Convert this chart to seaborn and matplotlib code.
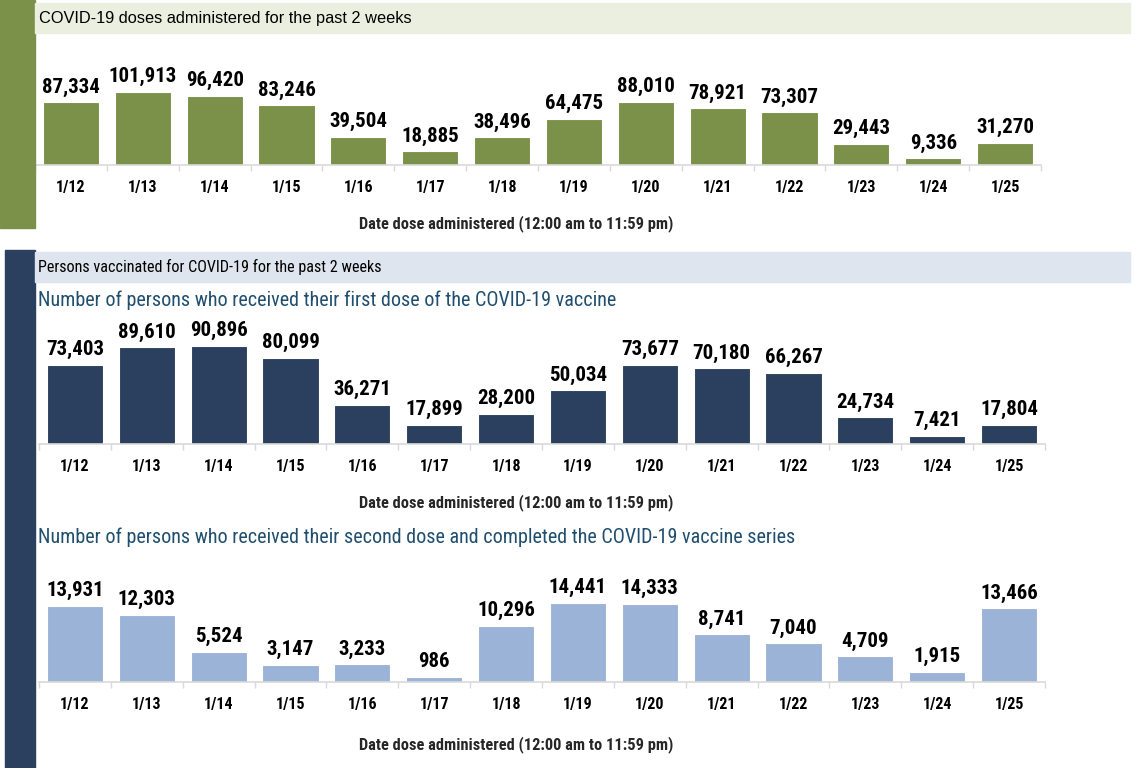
import pandas as pd
import matplotlib.pyplot as plt
import seaborn as sns
from matplotlib.patches import Rectangle
from matplotlib.ticker import FixedLocator

# data
dates = ["1/12", "1/13", "1/14", "1/15", "1/16", "1/17", "1/18",
         "1/19", "1/20", "1/21", "1/22", "1/23", "1/24", "1/25"]
doses_total = [87334, 101913, 96420, 83246, 39504, 18885, 38496,
               64475, 88010, 78921, 73307, 29443, 9336, 31270]
first_dose = [73403, 89610, 90896, 80099, 36271, 17899, 28200,
              50034, 73677, 70180, 66267, 24734, 7421, 17804]
second_dose = [13931, 12303, 5524, 3147, 3233, 986, 10296,
               14441, 14333, 8741, 7040, 4709, 1915, 13466]

GREEN = "#7b9149"
NAVY = "#2b3f5f"
LIGHT_BLUE = "#9bb3d6"
TEAL = "#1f4e6e"

W, H = 1138, 768

sns.set_theme(style="white")
COND = ["Roboto Condensed", "DejaVu Sans"]
REG = ["Liberation Sans", "DejaVu Sans"]
plt.rcParams["font.family"] = COND
plt.rcParams["font.stretch"] = "condensed"

fig = plt.figure(figsize=(W / 100, H / 100), dpi=100)


def px_rect(x0, y0, x1, y1):
    # pixel box (top-left origin) -> figure fraction
    return [x0 / W, 1 - y1 / H, (x1 - x0) / W, (y1 - y0) / H]


def add_box(x0, y0, x1, y1, color):
    fig.patches.append(Rectangle((x0 / W, 1 - y1 / H), (x1 - x0) / W, (y1 - y0) / H,
                                 transform=fig.transFigure, color=color, zorder=0))


def draw_panel(values, color, x0, x1, base_y, top_y, bar_px):
    ax = fig.add_axes(px_rect(x0, top_y, x1, base_y))
    df = pd.DataFrame({"date": dates, "count": values})
    sns.barplot(data=df, x="date", y="count", color=color, width=0.78,
                saturation=1, ax=ax, edgecolor="white", linewidth=0.8)
    ax.set_xlim(-0.5, len(dates) - 0.5)
    ax.set_ylim(0, max(values) * (base_y - top_y) / bar_px)
    for c in ax.containers:
        ax.bar_label(c, labels=[f"{v:,}" for v in values], padding=4,
                     fontsize=15, fontweight="bold", color="black")
    for s in ["top", "right", "left"]:
        ax.spines[s].set_visible(False)
    ax.spines["bottom"].set_color("#d9d9d9")
    ax.spines["bottom"].set_linewidth(1.2)
    ax.set_yticks([])
    ax.set_ylabel("")
    ax.set_xlabel("")
    ax.xaxis.set_minor_locator(FixedLocator([i - 0.5 for i in range(len(dates) + 1)]))
    ax.tick_params(axis="x", which="major", length=0, pad=11,
                   labelsize=11.5, colors="black")
    ax.tick_params(axis="x", which="minor", length=4, color="#d9d9d9", width=1,
                   bottom=True)
    for t in ax.get_xticklabels():
        t.set_fontweight("bold")
    ax.patch.set_alpha(0)
    return ax


# side bars and header bands
add_box(0, 0, 35, 228, GREEN)
add_box(35, 3, 1130, 33, "#ebefe0")
add_box(5, 250, 35, 768, NAVY)
add_box(35, 252, 1130, 282, "#dfe5ee")

fig.text(39 / W, 1 - 18 / H, "COVID-19 doses administered for the past 2 weeks",
         fontsize=11.8, family=REG, stretch="normal", va="center", ha="left", color="black")
fig.text(38 / W, 1 - 267 / H, "Persons vaccinated for COVID-19 for the past 2 weeks",
         fontsize=11.6, va="center", ha="left", color="black")
fig.text(38 / W, 1 - 300 / H,
         "Number of persons who received their first dose of the COVID-19 vaccine",
         fontsize=14.5, va="center", ha="left", color=TEAL)
fig.text(38 / W, 1 - 537 / H,
         "Number of persons who received their second dose and completed the COVID-19 vaccine series",
         fontsize=14.5, va="center", ha="left", color=TEAL)

xlab = "Date dose administered (12:00 am to 11:59 pm)"

draw_panel(doses_total, GREEN, 35, 1041, 165, 60, 73)
fig.text(516 / W, 1 - 224 / H, xlab, fontsize=11.8, fontweight="bold",
         ha="center", va="center")

draw_panel(first_dose, NAVY, 39, 1045, 444, 320, 98)
fig.text(516 / W, 1 - 503 / H, xlab, fontsize=11.8, fontweight="bold",
         ha="center", va="center")

draw_panel(second_dose, LIGHT_BLUE, 39, 1045, 682, 560, 79)
fig.text(516 / W, 1 - 745 / H, xlab, fontsize=11.8, fontweight="bold",
         ha="center", va="center")

fig.savefig("out.png", dpi=100)
